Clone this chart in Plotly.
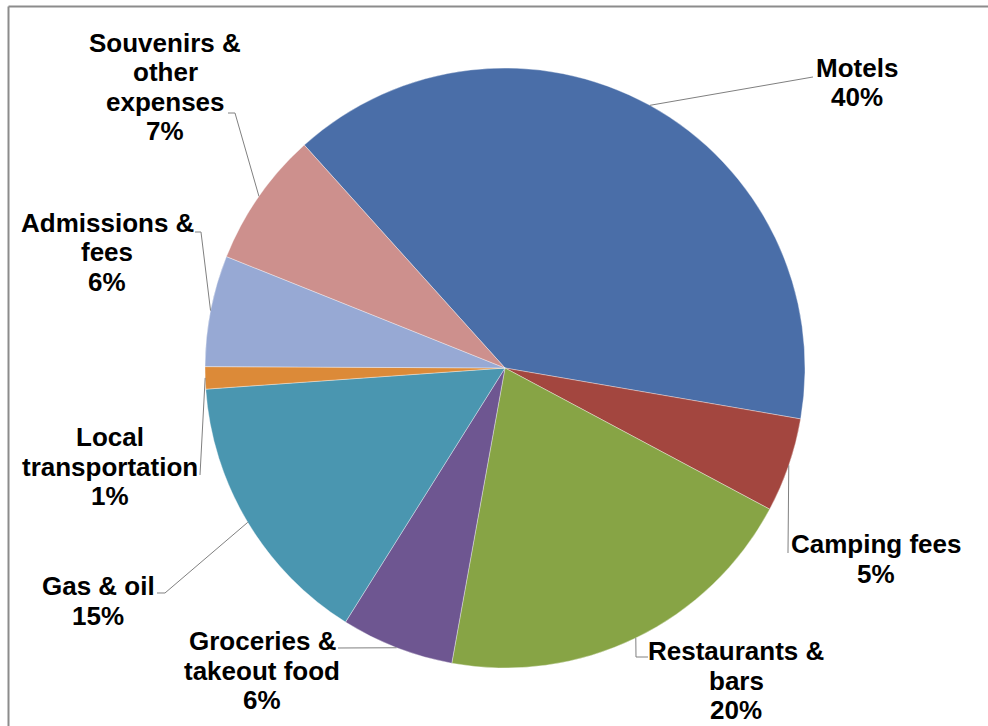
import math
import plotly.graph_objects as go

# ---------------- data ----------------
categories = [
    "Motels",
    "Camping fees",
    "Restaurants & bars",
    "Groceries & takeout food",
    "Gas & oil",
    "Local transportation",
    "Admissions & fees",
    "Souvenirs & other expenses",
]
shares = [39.5, 5.1, 20.1, 6.1, 15.0, 1.2, 6.0, 7.3]
pct_labels = ["40%", "5%", "20%", "6%", "15%", "1%", "6%", "7%"]
label_lines = [
    ["Motels"],
    ["Camping fees"],
    ["Restaurants &", "bars"],
    ["Groceries &", "takeout food"],
    ["Gas & oil"],
    ["Local", "transportation"],
    ["Admissions &", "fees"],
    ["Souvenirs &", "other", "expenses"],
]
colors = ["#4A6EA8", "#A3463F", "#87A445", "#6E5691", "#4A96B0",
          "#DC8A38", "#97A9D4", "#CD908D"]

# ---------------- layout constants ----------------
W, H = 988, 726
CX, CY, R = 505, 368, 300
ROT = -42
FONT = "Liberation Sans, Arial, sans-serif"
FS = 26
LS = 29.5

# text block centre x / first-line y (pixels)
label_pos = [(857, 68), (876, 544), (736, 651), (262, 641),
             (98, 586), (110, 437), (107, 223), (165, 43)]
# leader-line points next to the text (pixels), pie end computed from data
leader_pts = [
    [(813, 77)],
    [(788, 553)],
    [(648, 657), (636, 657)],
    [(338, 648)],
    [(157, 593), (165, 593)],
    [(200, 475)],
    [(195, 232), (201, 232)],
    [(228, 113), (235, 113)],
]


def px(x, y):
    return x / W, 1 - y / H


fig = go.Figure()
fig.add_trace(go.Pie(
    labels=categories,
    values=shares,
    sort=False,
    direction="clockwise",
    rotation=ROT,
    textinfo="none",
    hoverinfo="label+percent",
    marker=dict(colors=colors, line=dict(color="rgba(255,255,255,0.45)", width=0.8)),
    domain=dict(x=[(CX - R) / W, (CX + R) / W], y=[1 - (CY + R) / H, 1 - (CY - R) / H]),
    showlegend=False,
))

total = sum(shares)
annotations = []
shapes = []
cum = 0.0
for i, v in enumerate(shares):
    mid = ROT + (cum + v / 2) / total * 360
    cum += v
    a = math.radians(mid)
    ax, ay = CX + R * math.sin(a), CY - R * math.cos(a)
    pts = leader_pts[i] + [(ax, ay)]
    path = ""
    for k, (x, y) in enumerate(pts):
        u, w = px(x, y)
        path += ("M" if k == 0 else " L") + f" {u:.5f} {w:.5f}"
    shapes.append(dict(type="path", path=path, xref="paper", yref="paper",
                       line=dict(color="#808080", width=1)))
    lines = label_lines[i] + [pct_labels[i]]
    tx, ty = label_pos[i]
    for j, t in enumerate(lines):
        u, w = px(tx, ty + j * LS)
        annotations.append(dict(x=u, y=w, xref="paper", yref="paper", text=t,
                                showarrow=False, xanchor="center", yanchor="middle",
                                font=dict(family=FONT, size=FS, color="#000000", weight="bold")))

# chart-area border (top and left edges visible)
shapes.append(dict(type="line", xref="paper", yref="paper",
                   x0=8.5 / W, x1=1.0, y0=1 - 6.5 / H, y1=1 - 6.5 / H,
                   line=dict(color="#8C8C8C", width=2)))
shapes.append(dict(type="line", xref="paper", yref="paper",
                   x0=8.5 / W, x1=8.5 / W, y0=0, y1=1 - 6.5 / H,
                   line=dict(color="#8C8C8C", width=2)))

fig.update_layout(
    width=W, height=H,
    margin=dict(l=0, r=0, t=0, b=0),
    paper_bgcolor="white", plot_bgcolor="white",
    annotations=annotations, shapes=shapes,
)
fig.write_html("out.html")
